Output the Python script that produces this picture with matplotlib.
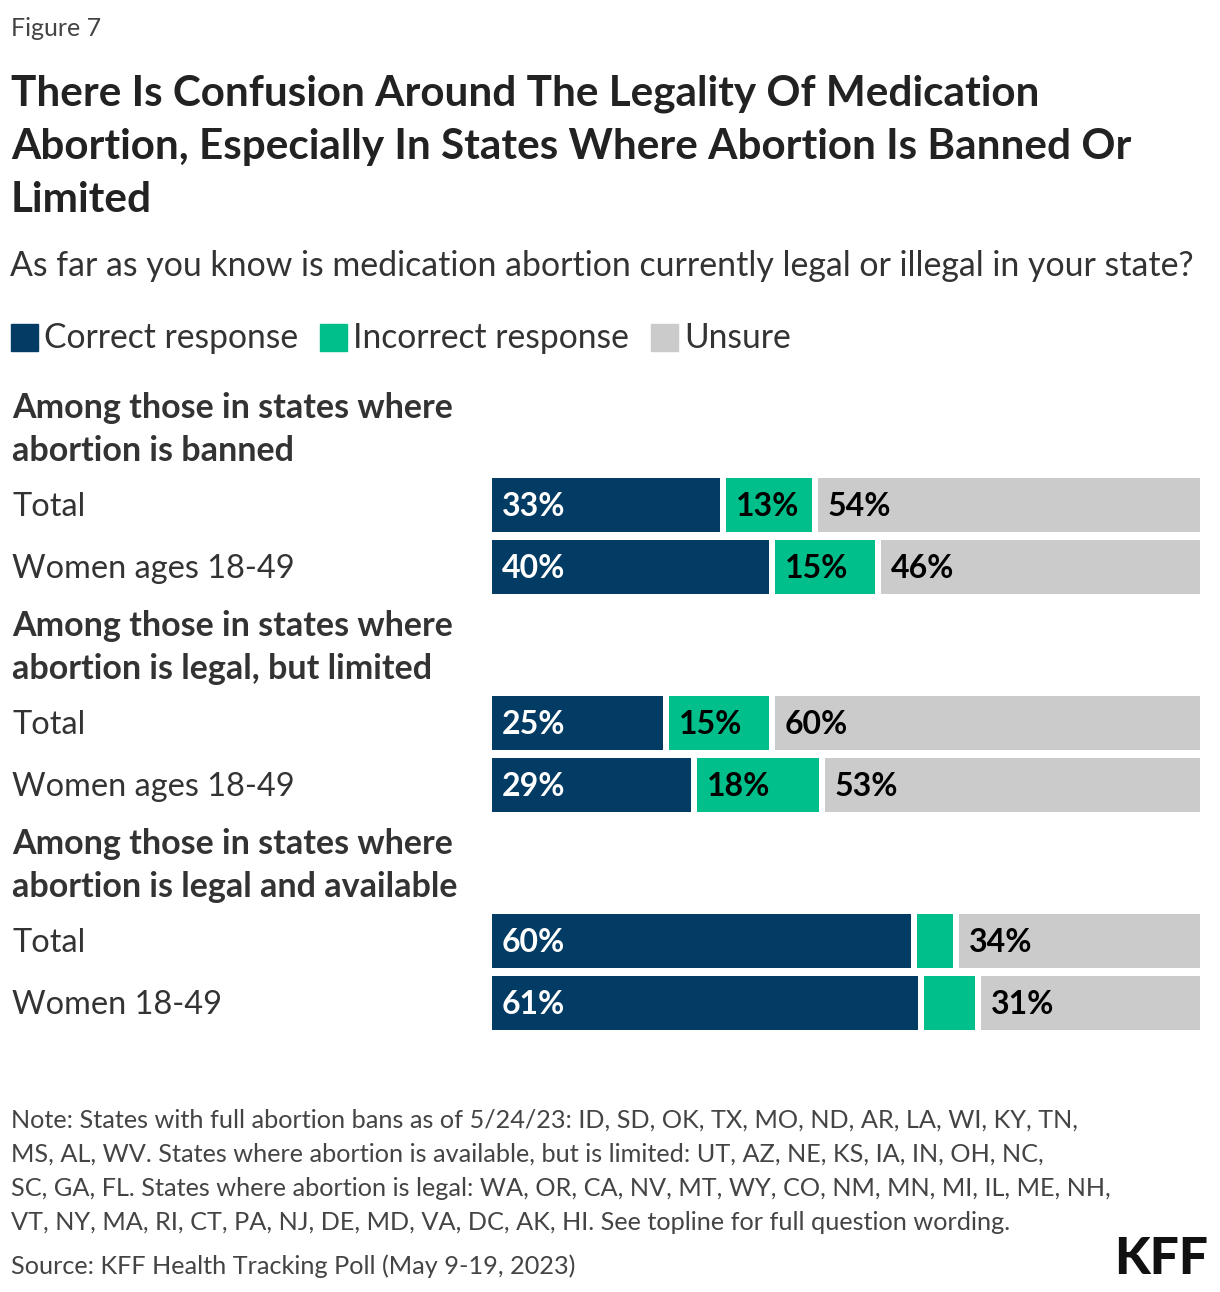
import matplotlib.pyplot as plt
from matplotlib.patches import Rectangle
from matplotlib.transforms import blended_transform_factory
import numpy as np

plt.rcParams['font.family'] = ['Lato', 'DejaVu Sans']

# data
groups = ["Among those in states where\nabortion is banned",
          "Among those in states where\nabortion is legal, but limited",
          "Among those in states where\nabortion is legal and available"]
row_labels = [["Total", "Women ages 18-49"],
              ["Total", "Women ages 18-49"],
              ["Total", "Women 18-49"]]
correct = [[33, 40], [25, 29], [60, 61]]
incorrect = [[13, 15], [15, 18], [6, 8]]
unsure = [[54, 46], [60, 53], [34, 31]]
series_names = ["Correct response", "Incorrect response", "Unsure"]
colors = ["#023b63", "#00bf8a", "#cbcbcb"]
text_colors = ["white", "black", "black"]

W, H = 1220, 1292
fig = plt.figure(figsize=(W / 100, H / 100), dpi=100)

def fx(px):
    return px / W

def fy(py):
    return 1 - py / H

# header texts
fig.text(fx(11), fy(28), "Figure 7", fontsize=18, color="#444444", va="center")
title_lines = ["There Is Confusion Around The Legality Of Medication",
               "Abortion, Especially In States Where Abortion Is Banned Or",
               "Limited"]
for i, line in enumerate(title_lines):
    fig.text(fx(11), fy(94 + i * 53), line, fontsize=30.4, fontweight="bold",
             color="#222222", va="center")
fig.text(fx(10), fy(266), "As far as you know is medication abortion currently legal or illegal in your state?",
         fontsize=24.4, color="#333333", va="center")

# legend
lx = 11
for name, c in zip(series_names, colors):
    fig.patches.append(Rectangle((fx(lx), fy(351)), fx(27), 27 / H, color=c,
                                 transform=fig.transFigure))
    t = fig.text(fx(lx + 33), fy(338), name, fontsize=24.2, color="#333333", va="center")
    fig.canvas.draw()
    bb = t.get_window_extent()
    lx = bb.x1 + 22

# bar axis: x in percent, y in pixel rows
top, bot = 470, 1040
ax = fig.add_axes([fx(492), fy(bot), fx(1200) - fx(492), (bot - top) / H])
ax.set_xlim(0, 100)
ax.set_ylim(bot, top)
ax.axis("off")

first_row = 505
group_step = 218
row_step = 62
bar_h = 54
gap = 6 / 7.08
lab = blended_transform_factory(fig.transFigure, ax.transData)

for g in range(len(groups)):
    y0 = first_row + g * group_step
    for k, line in enumerate(groups[g].split("\n")):
        ax.text(fx(12), y0 - 97 + k * 43, line, transform=lab, fontsize=24.5,
                fontweight="bold", color="#333333", va="center", clip_on=False)
    for r in range(2):
        y = y0 + r * row_step
        ax.text(fx(12), y + 2, row_labels[g][r], transform=lab, fontsize=23.4,
                color="#333333", va="center", clip_on=False)
        vals = [correct[g][r], incorrect[g][r], unsure[g][r]]
        left = 0
        for j, v in enumerate(vals):
            w = v - gap if j < 2 else v
            ax.barh(y, w, left=left, height=bar_h, color=colors[j])
            if v >= 10:
                ax.text(left + 1.4, y + 2, f"{v}%", fontsize=23, fontweight="bold",
                        color=text_colors[j], va="center")
            left += v

# notes
notes = ["Note: States with full abortion bans as of 5/24/23: ID, SD, OK, TX, MO, ND, AR, LA, WI, KY, TN,",
         "MS, AL, WV. States where abortion is available, but is limited: UT, AZ, NE, KS, IA, IN, OH, NC,",
         "SC, GA, FL. States where abortion is legal: WA, OR, CA, NV, MT, WY, CO, NM, MN, MI, IL, ME, NH,",
         "VT, NY, MA, RI, CT, PA, NJ, DE, MD, VA, DC, AK, HI. See topline for full question wording."]
for i, line in enumerate(notes):
    fig.text(fx(11), fy(1120 + i * 34), line, fontsize=18.2, color="#444444", va="center")
fig.text(fx(11), fy(1266), "Source: KFF Health Tracking Poll (May 9-19, 2023)", fontsize=18.2,
         color="#444444", va="center")
fig.text(fx(1208), fy(1259), "KFF", fontsize=37, fontweight="black", color="#111111",
         va="center", ha="right")

fig.savefig("out.png", dpi=100, facecolor="white")
